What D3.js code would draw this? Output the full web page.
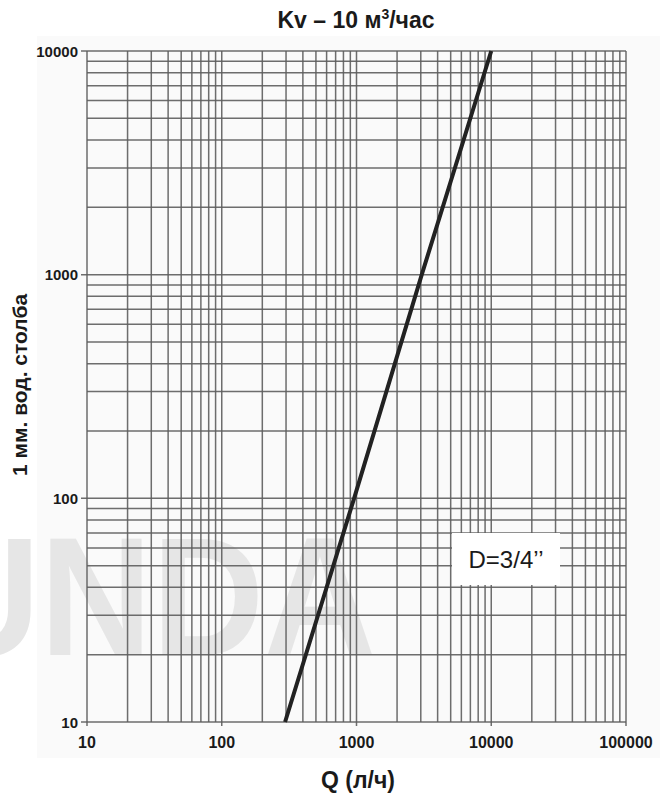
<!DOCTYPE html>
<html><head><meta charset="utf-8">
<script src="https://cdn.jsdelivr.net/npm/d3@7"></script>
<style>body{margin:0;background:#fff}svg{display:block}</style>
</head><body>
<script>
// data
const flowQ = [295, 960, 3050, 10000];      // Q (л/ч)
const headMM = [10, 100, 1000, 10000];      // мм вод. ст.
const xTickLabels = [10, 100, 1000, 10000, 100000];
const yTickLabels = [10, 100, 1000, 10000];
const titleText = "Kv – 10 м";
const yLabel = "1 мм. вод. столба";
const xLabel = "Q (л/ч)";
const noteText = "D=3/4’’";
const watermark = "UNDA";

const W = 660, H = 800;
const svg = d3.select("body").append("svg").attr("width", W).attr("height", H);
const font = "Arial, 'Liberation Sans', Helvetica, sans-serif";

svg.append("rect").attr("x", 37).attr("y", 36).attr("width", 623).attr("height", 722).attr("fill", "#fafafa");

const x = d3.scaleLog().domain([10, 100000]).range([87, 626]);
const y = d3.scaleLog().domain([10, 10000]).range([722, 51]);

// watermark (clipped to the page)
svg.append("clipPath").attr("id", "pg").append("rect").attr("width", W).attr("height", H);
svg.append("g").attr("clip-path", "url(#pg)").append("text").attr("x", -72).attr("y", 655)
  .attr("textLength", 448).attr("lengthAdjust", "spacingAndGlyphs")
  .attr("font-family", font).attr("font-weight", "bold").attr("font-size", 168)
  .attr("fill", "#e6e6e6").text(watermark);

// grid
const xGrid = [];
for (let d = 10; d < 100000; d *= 10) for (let k = 1; k <= 9; k++) xGrid.push(d * k);
xGrid.push(100000);
const yGrid = [];
for (let d = 10; d < 10000; d *= 10) for (let k = 1; k <= 9; k++) yGrid.push(d * k);
yGrid.push(10000);

const g = svg.append("g");
g.selectAll(".vg").data(xGrid).join("line")
  .attr("x1", d => x(d)).attr("x2", d => x(d))
  .attr("y1", y(10000)).attr("y2", d => xTickLabels.includes(d) ? y(10) + 4 : y(10))
  .attr("stroke", "#5e5e5e").attr("stroke-width", 1.5).attr("opacity", 0.9);
g.selectAll(".hg").data(yGrid).join("line")
  .attr("y1", d => y(d)).attr("y2", d => y(d))
  .attr("x1", d => yTickLabels.includes(d) ? x(10) - 6 : x(10)).attr("x2", x(100000))
  .attr("stroke", "#5e5e5e").attr("stroke-width", 1.5).attr("opacity", 0.9);

// tick labels
svg.selectAll(".xl").data(xTickLabels).join("text")
  .attr("x", d => x(d)).attr("y", 748).attr("text-anchor", "middle")
  .attr("font-family", font).attr("font-weight", "bold").attr("font-size", 16)
  .attr("fill", "#1a1a1a").text(d => d);
svg.selectAll(".yl").data(yTickLabels).join("text")
  .attr("x", 78).attr("y", d => y(d) + 5.5).attr("text-anchor", "end")
  .attr("font-family", font).attr("font-weight", "bold").attr("font-size", 15)
  .attr("fill", "#1a1a1a").text(d => d);

// curve
const line = d3.line().x(d => x(d[0])).y(d => y(d[1]));
svg.append("path").datum(flowQ.map((q, i) => [q, headMM[i]]))
  .attr("d", line).attr("fill", "none").attr("stroke", "#222").attr("stroke-width", 4);

// note box
svg.append("rect").attr("x", 452).attr("y", 533).attr("width", 108).attr("height", 52).attr("fill", "#fff");
svg.append("text").attr("x", 506).attr("y", 568).attr("text-anchor", "middle")
  .attr("font-family", font).attr("font-size", 24).attr("fill", "#1a1a1a").text(noteText);

// title
const t = svg.append("text").attr("x", 356).attr("y", 28).attr("text-anchor", "middle")
  .attr("font-family", font).attr("font-weight", "bold").attr("font-size", 23).attr("fill", "#1a1a1a");
t.append("tspan").text(titleText);
t.append("tspan").attr("font-size", 14).attr("dy", -9).text("3");
t.append("tspan").attr("dy", 9).text("/час");

// axis titles
svg.append("text").attr("x", 358).attr("y", 788).attr("text-anchor", "middle")
  .attr("font-family", font).attr("font-weight", "bold").attr("font-size", 23).attr("fill", "#1a1a1a").text(xLabel);
svg.append("text").attr("transform", "translate(27,385) rotate(-90)").attr("text-anchor", "middle")
  .attr("font-family", font).attr("font-weight", "bold").attr("font-size", 21).attr("fill", "#1a1a1a").text(yLabel);
</script>
</body></html>
